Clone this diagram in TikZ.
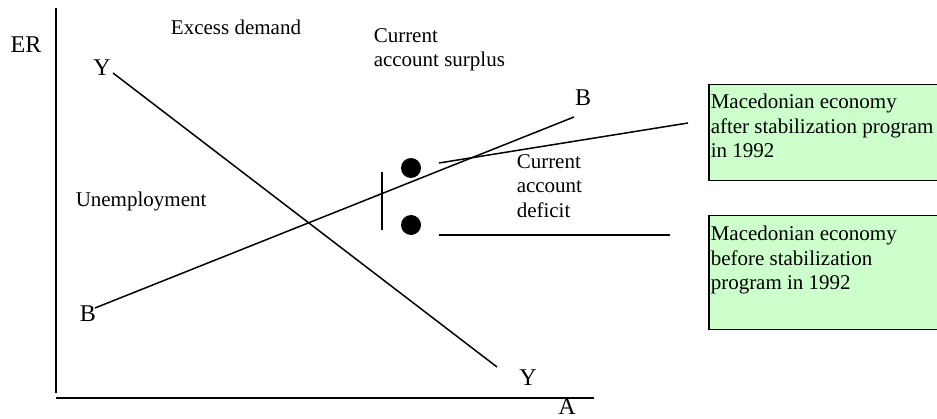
\documentclass[tikz,border=0pt]{standalone}
\usepackage{fontspec}
\setmainfont{Liberation Serif}
\definecolor{boxgreen}{HTML}{CCFFCC}
\begin{document}
\begin{tikzpicture}[x=1pt,y=-1pt, line width=1.5pt,
  lbl/.style={font=\fontsize{21}{24.5}\selectfont, inner sep=0pt},
  mlbl/.style={lbl, align=left, anchor=north west},
  axl/.style={font=\fontsize{24}{28}\selectfont, inner sep=0pt},
  greenbox/.style={draw, line width=1.5pt, fill=boxgreen, inner sep=0pt, anchor=north west, minimum width=240pt},
  dot/.style={circle, fill=black, minimum size=20pt, inner sep=0pt}]
\useasboundingbox (0,0) rectangle (937,419);
% axes
\coordinate (vtop) at (56,8);
\coordinate (vbot) at (56,393);
\coordinate (hleft) at (56,398);
\coordinate (hright) at (594,398);
\draw (vtop) -- (vbot);
\draw (hleft) -- (hright);
\node[axl] (er) at (26,45) {ER};
\node[axl] (alab) at (567,407) {A};
% Y line
\node[axl] (y1) at (102,68) {Y};
\node[axl] (y2) at (528,378) {Y};
\coordinate (ys) at (113,73);
\coordinate (ye) at (497,367);
\draw (ys) -- (ye);
% B line
\node[axl] (b1) at (88,314) {B};
\node[axl] (b2) at (583,98) {B};
\coordinate (bs) at (95,308);
\coordinate (be) at (574,117);
\draw (bs) -- (be);
% region labels
\node[lbl] (excess) at (236,27) {Excess demand};
\node[mlbl] (surplus) at (373,27.5) {Current\\account surplus};
\node[lbl, anchor=west] (unemp) at (75,201) {Unemployment};
\node[mlbl] (deficit) at (516,153.5) {Current\\account\\deficit};
% marker and dots
\coordinate (ms) at (382,172);
\coordinate (me) at (382,230);
\draw (ms) -- (me);
\node[dot] (d1) at (411,168) {};
\node[dot] (d2) at (411,225) {};
% boxes
\node[greenbox, minimum height=96pt] (box1) at (708,84) {};
\node[greenbox, minimum height=114pt] (box2) at (708,215) {};
\node[mlbl] (t1) at (710,93.5) {Macedonian economy\\after stabilization program\\in 1992};
\node[mlbl] (t2) at (710,225.5) {Macedonian economy\\before stabilization\\program in 1992};
% connectors
\coordinate (c1s) at (439,163);
\coordinate (c1e) at (688,123);
\coordinate (c2s) at (439,235);
\coordinate (c2e) at (670,235);
\draw (c1s) -- (c1e);
\draw (c2s) -- (c2e);
\end{tikzpicture}
\end{document}
